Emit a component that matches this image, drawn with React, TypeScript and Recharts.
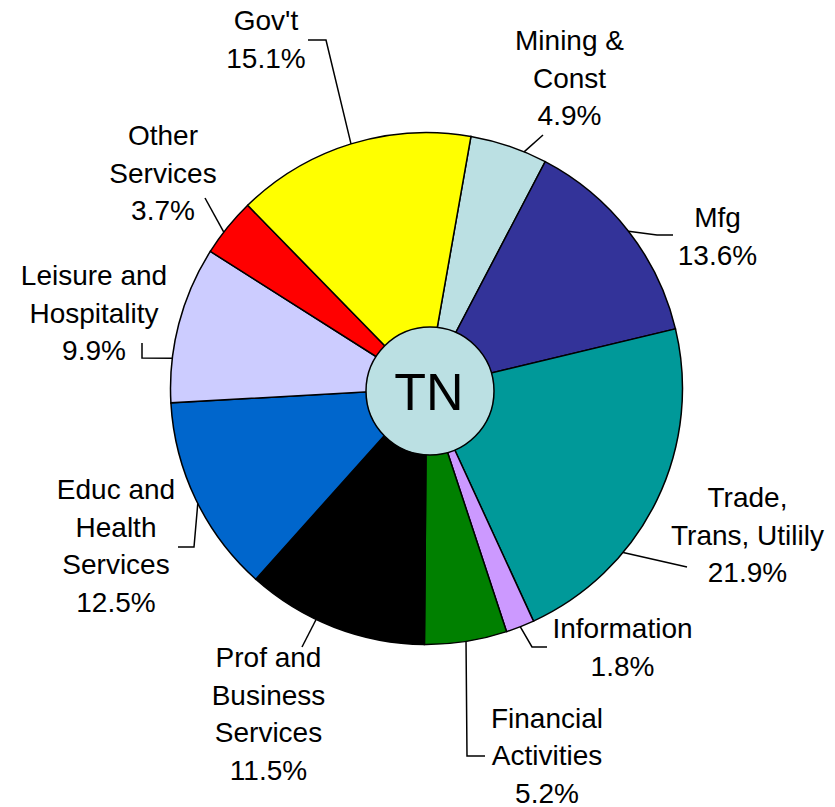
import { PieChart, Pie, Cell } from 'recharts';

const SECTORS = [
  'Mining & Const',
  'Mfg',
  'Trade, Trans, Utilily',
  'Information',
  'Financial Activities',
  'Prof and Business Services',
  'Educ and Health Services',
  'Leisure and Hospitality',
  'Other Services',
  "Gov't",
];
const SHARES = [4.9, 13.6, 21.9, 1.8, 5.2, 11.5, 12.5, 9.9, 3.7, 15.1];
const LABEL_LINES = [
  ['Mining &', 'Const'],
  ['Mfg'],
  ['Trade,', 'Trans, Utilily'],
  ['Information'],
  ['Financial', 'Activities'],
  ['Prof and', 'Business', 'Services'],
  ['Educ and', 'Health', 'Services'],
  ['Leisure and', 'Hospitality'],
  ['Other', 'Services'],
  ["Gov't"],
];
const COLORS = [
  '#bbe0e3', '#333399', '#009999', '#cc99ff', '#008000',
  '#000000', '#0066cc', '#ccccff', '#ff0000', '#ffff00',
];
const STATE = 'TN';

const FONT = '"Liberation Sans", Arial, sans-serif';
const LINE_H = 37.5;
const RAD = Math.PI / 180;

// label placement in px from the pie centre; turn = degrees clockwise to move the leader start off the mid angle
const LAYOUT: { text: [number, number]; turn: number; path: [number, number][] }[] = [
  { text: [143, -338.5], turn: 3.6, path: [[116.5, -253.5]] },
  { text: [291, -161.5], turn: 0, path: [[230.5, -153.5], [246.5, -153.5]] },
  { text: [321, 118.5], turn: 13.9, path: [[260.5, 178.5]] },
  { text: [196, 249.5], turn: 0, path: [[105.5, 258.5], [120.5, 258.5]] },
  { text: [120.5, 339], turn: 0, path: [[40.5, 367.5], [58.5, 367.5]] },
  { text: [-158, 278.5], turn: 4.4, path: [[-124.5, 258.5]] },
  { text: [-310.5, 110.5], turn: -1, path: [[-232.5, 158.5], [-248.5, 158.5]] },
  { text: [-332.5, -103.5], turn: -7.8, path: [[-284.5, -30.5], [-284.5, -45.5]] },
  { text: [-263.5, -243.5], turn: -1.4, path: [[-221.5, -190.5]] },
  { text: [-160.5, -358.5], turn: 0, path: [[-100.5, -348.5], [-118.5, -348.5]] },
];

const data = SECTORS.map((name, i) => ({ name, value: SHARES[i] }));
const centre = [{ name: STATE, value: 1 }];

function renderLabel(p: any) {
  const { cx, cy, midAngle, outerRadius, index } = p;
  const lay = LAYOUT[index];
  const a = (midAngle - lay.turn) * RAD;
  const pts = [
    [cx + outerRadius * Math.cos(a), cy - outerRadius * Math.sin(a)],
    ...lay.path.map(([dx, dy]) => [cx + dx, cy + dy]),
  ];
  const lines = [...LABEL_LINES[index], `${SHARES[index].toFixed(1)}%`];
  const tx = cx + lay.text[0];
  return (
    <g key={`lbl-${index}`}>
      <polyline
        points={pts.map((q) => q.join(',')).join(' ')}
        fill="none"
        stroke="#000"
        strokeWidth={1.5}
      />
      <text x={tx} y={cy + lay.text[1]} textAnchor="middle" fontSize={28} fontFamily={FONT} fill="#000">
        {lines.map((l, i) => (
          <tspan key={i} x={tx} dy={i === 0 ? 0 : LINE_H}>
            {l}
          </tspan>
        ))}
      </text>
    </g>
  );
}

function renderCentre(p: any) {
  const { cx, cy, outerRadius } = p;
  return (
    <g key="centre">
      <circle cx={cx} cy={cy} r={outerRadius} fill="none" stroke="#000" strokeWidth={1.5} />
      <text x={cx - 1} y={cy + 19} textAnchor="middle" fontSize={52} fontFamily={FONT} fill="#000">
        {STATE}
      </text>
    </g>
  );
}

export default function App() {
  return (
    <div style={{ position: 'absolute', left: 0, top: 0, width: 835, height: 807, background: '#fff' }}>
      <PieChart width={835} height={807} margin={{ top: 0, right: 0, bottom: 0, left: 0 }}>
        <Pie
          data={data}
          dataKey="value"
          nameKey="name"
          cx={426.5}
          cy={388.5}
          outerRadius={256}
          startAngle={80}
          endAngle={-280}
          stroke="#000"
          strokeWidth={1.5}
          label={renderLabel}
          labelLine={false}
          isAnimationActive={false}
        >
          {data.map((d, i) => (
            <Cell key={d.name} fill={COLORS[i]} />
          ))}
        </Pie>
        <Pie
          data={centre}
          dataKey="value"
          cx={430}
          cy={391}
          outerRadius={64}
          startAngle={90}
          endAngle={-270}
          stroke="none"
          fill="#bbe0e3"
          label={renderCentre}
          labelLine={false}
          isAnimationActive={false}
        />
      </PieChart>
    </div>
  );
}
